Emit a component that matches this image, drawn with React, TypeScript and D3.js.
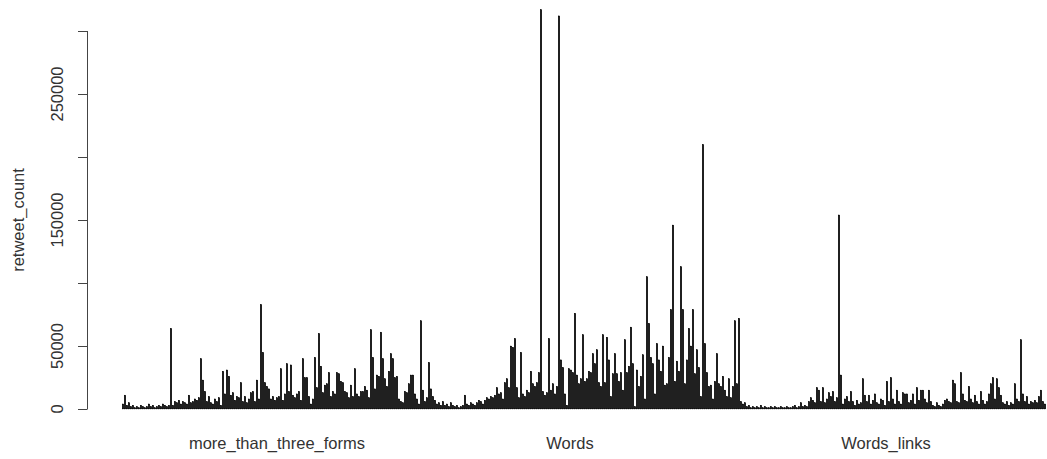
import React from "react";
import * as d3 from "d3";

// Retweet counts (in thousands) for each tweet, ordered by category.
const moreThanThreeForms: number[] = [
  4, 11, 3, 5, 2, 3, 1, 2, 1, 3, 2, 1, 2, 4, 2, 3, 1, 2, 3, 2,
  4, 3, 2, 3, 64, 3, 6, 5, 7, 4, 6, 5, 4, 11, 5, 6, 8, 7, 9, 40,
  23, 14, 6, 10, 5, 4, 8, 6, 9, 3, 30, 12, 31, 26, 11, 13, 7, 10, 9, 21,
  6, 10, 5, 8, 13, 14, 6, 23, 8, 83, 45, 21, 18, 16, 8, 10, 7, 9, 10, 32,
  7, 12, 36, 14, 35, 11, 9, 12, 14, 7, 40, 25, 25, 10, 4, 8, 41, 17, 60, 34,
  13, 19, 20, 29, 10, 14, 12, 29, 28, 22, 21, 14, 13, 9, 19, 10, 32, 12, 10, 14,
  14, 18, 15, 9, 63, 41, 16, 27, 26, 61, 40, 24, 18, 30, 44, 40, 25, 26, 8, 6,
  5, 14, 13, 20, 27, 27, 12, 8, 4, 70, 15, 6, 9, 37, 16, 10, 7, 4, 5, 3,
  6, 3, 4, 2, 5, 3,
];

const words: number[] = [
  2, 3, 1, 2, 3, 11, 4, 3, 5, 4, 3, 5, 7, 6, 4, 7, 9, 8, 10, 9,
  11, 17, 12, 13, 8, 21, 24, 17, 50, 49, 56, 17, 9, 45, 12, 10, 15, 13, 30, 20,
  18, 21, 29, 317, 14, 11, 13, 56, 15, 20, 12, 18, 312, 39, 33, 12, 3, 32, 31, 29,
  76, 27, 20, 24, 59, 22, 24, 30, 29, 44, 36, 47, 21, 18, 59, 21, 57, 39, 10, 28,
  44, 28, 22, 29, 15, 55, 29, 34, 65, 36, 2, 31, 18, 26, 43, 8, 105, 68, 41, 36,
  12, 52, 39, 30, 50, 19, 20, 41, 79, 146, 22, 38, 30, 113, 79, 20, 39, 64, 50, 79,
  28, 47, 33, 10, 210, 52, 29, 18, 19, 8, 22, 44, 20, 18, 26, 15, 10, 24, 9, 18,
  70, 20, 72, 6, 4, 5, 2, 3, 1, 2,
];

const wordsLinks: number[] = [
  1, 2, 1, 3, 1, 2, 1, 1, 2, 1, 2, 1, 1, 2, 1, 1, 2, 1, 1, 2,
  3, 1, 2, 5, 2, 3, 2, 6, 9, 7, 5, 17, 15, 6, 17, 5, 8, 13, 10, 14,
  6, 9, 154, 27, 4, 8, 10, 6, 14, 6, 3, 7, 4, 5, 24, 11, 6, 11, 4, 7,
  12, 5, 4, 8, 7, 3, 22, 6, 25, 8, 4, 15, 6, 4, 13, 12, 12, 5, 7, 12,
  4, 17, 7, 15, 15, 8, 5, 15, 6, 3, 2, 5, 3, 2, 4, 7, 8, 6, 5, 23,
  20, 6, 5, 29, 12, 7, 6, 18, 8, 5, 11, 6, 4, 14, 7, 4, 6, 12, 20, 25,
  8, 24, 17, 11, 5, 4, 6, 3, 5, 4, 20, 8, 6, 55, 12, 6, 10, 4, 6, 5,
  7, 5, 10, 15, 6, 4,
];

const categories = ["more_than_three_forms", "Words", "Words_links"];
const seriesByCategory = [moreThanThreeForms, words, wordsLinks];

const yTickValues = [0, 50000, 100000, 150000, 200000, 250000, 300000];
const yTickLabels = ["0", "50000", "", "150000", "", "250000", ""];

// Bar index (within the whole sequence) under which each category name sits.
const categoryLabelBar = [77.5, 224, 382];

type Bar = { category: string; index: number; value: number };

const bars: Bar[] = [];
seriesByCategory.forEach((series, c) => {
  series.forEach((k) => {
    bars.push({ category: categories[c], index: bars.length, value: k * 1000 });
  });
});

const WIDTH = 1047;
const HEIGHT = 459;
const FONT = "'Liberation Sans', Arial, sans-serif";

export default function App() {
  const y = d3.scaleLinear().domain([0, 300000]).range([409, 31]);
  const x = d3.scaleLinear().domain([0, bars.length]).range([122, 1046]);
  const step = x(1) - x(0);
  const axisX = 87;

  return (
    <svg
      width={WIDTH}
      height={HEIGHT}
      style={{ position: "absolute", left: 0, top: 0, background: "#fff" }}
    >
      <g>
        {bars.map((b) => (
          <rect
            key={b.index}
            x={x(b.index) + step * 0.1}
            width={step * 0.8}
            y={y(b.value)}
            height={y(0) - y(b.value)}
            fill="#000"
            stroke="#000"
            strokeWidth={0.35}
          />
        ))}
      </g>

      <g stroke="#444" strokeWidth={1} fill="none">
        <line x1={axisX + 0.5} x2={axisX + 0.5} y1={y(0)} y2={y(300000)} />
        {yTickValues.map((t) => (
          <line
            key={t}
            x1={axisX - 9}
            x2={axisX + 0.5}
            y1={Math.round(y(t)) + 0.5}
            y2={Math.round(y(t)) + 0.5}
          />
        ))}
      </g>

      <g fill="#333" fontFamily={FONT} fontSize={16.5} textAnchor="middle">
        {yTickValues.map((t, i) =>
          yTickLabels[i] ? (
            <text key={t} transform={`translate(63,${y(t)}) rotate(-90)`}>
              {yTickLabels[i]}
            </text>
          ) : null
        )}
        <text transform={`translate(24,${(y(0) + y(300000)) / 2}) rotate(-90)`}>
          retweet_count
        </text>
        {categories.map((c, i) => (
          <text key={c} x={x(categoryLabelBar[i])} y={449}>
            {c}
          </text>
        ))}
      </g>
    </svg>
  );
}
